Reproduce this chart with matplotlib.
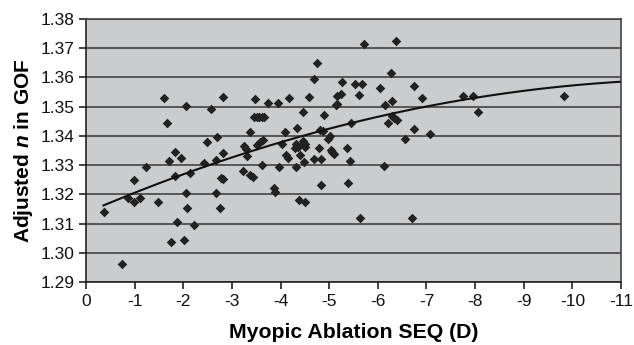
import numpy as np
import matplotlib
matplotlib.use("Agg")
import matplotlib.pyplot as plt

plt.rcParams["font.family"] = ["Liberation Sans", "DejaVu Sans"]
plt.rcParams["axes.unicode_minus"] = False
plt.rcParams["mathtext.fontset"] = "custom"
plt.rcParams["mathtext.it"] = "Liberation Sans:italic:bold"
plt.rcParams["mathtext.rm"] = "Liberation Sans:bold"

# myopic ablation spherical equivalent (D) and adjusted refractive index
seq = [-0.37, -0.73, -0.86, -0.99, -0.99, -1.12, -1.24, -1.49, -1.60, -1.67,
       -1.71, -1.74, -1.84, -1.84, -1.88, -1.95, -2.01, -2.05, -2.05, -2.08,
       -2.14, -2.23, -2.42, -2.49, -2.56, -2.67, -2.69, -2.67, -2.75, -2.77,
       -2.81, -2.82, -2.82,
       -3.22, -3.24, -3.30, -3.31, -3.37, -3.37, -3.43, -3.48, -3.46, -3.51,
       -3.56, -3.61, -3.66, -3.52, -3.57, -3.64, -3.62, -3.74, -3.86, -3.88,
       -3.95, -3.97,
       -4.02, -4.10, -4.12, -4.16, -4.17, -4.32, -4.33, -4.29, -4.32, -4.35,
       -4.37, -4.39, -4.46, -4.47, -4.47, -4.49, -4.50, -4.51, -4.51, -4.59,
       -4.68, -4.69, -4.75, -4.80, -4.81, -4.83, -4.83, -4.88, -4.90, -4.98,
       -5.01, -5.03, -5.06, -5.09,
       -5.14, -5.17, -5.16, -5.25, -5.27, -5.37, -5.39, -5.43, -5.45, -5.53,
       -5.62, -5.64, -5.68, -5.71, -6.05, -6.13, -6.15, -6.21, -6.28, -6.30,
       -6.30, -6.34, -6.39, -6.37, -6.55, -6.71, -6.75, -6.75, -6.90, -7.07,
       -7.76, -7.96, -8.07, -9.83]
n_adj = [1.3139, 1.2961, 1.3188, 1.3249, 1.3174, 1.3188, 1.3293, 1.3174, 1.3529, 1.3444,
         1.3313, 1.3036, 1.3345, 1.3264, 1.3107, 1.3323, 1.3043, 1.3501, 1.3206, 1.3152,
         1.3273, 1.3095, 1.3306, 1.3380, 1.3492, 1.3317, 1.3395, 1.3206, 1.3152, 1.3257,
         1.3251, 1.3342, 1.3532,
         1.3281, 1.3365, 1.3355, 1.3331, 1.3413, 1.3267, 1.3258, 1.3525, 1.3466, 1.3466,
         1.3466, 1.3466, 1.3466, 1.3370, 1.3379, 1.3386, 1.3301, 1.3514, 1.3221, 1.3209,
         1.3512, 1.3292,
         1.3372, 1.3415, 1.3334, 1.3324, 1.3529, 1.3292, 1.3427, 1.3359, 1.3372, 1.3363,
         1.3181, 1.3334, 1.3372, 1.3381, 1.3481, 1.3310, 1.3363, 1.3372, 1.3174, 1.3532,
         1.3594, 1.3322, 1.3651, 1.3359, 1.3420, 1.3322, 1.3233, 1.3418, 1.3473, 1.3390,
         1.3400, 1.3352, 1.3345, 1.3338,
         1.3506, 1.3509, 1.3537, 1.3542, 1.3583, 1.3357, 1.3238, 1.3315, 1.3444, 1.3577,
         1.3540, 1.3120, 1.3577, 1.3714, 1.3563, 1.3298, 1.3505, 1.3444, 1.3615, 1.3519,
         1.3467, 1.3460, 1.3455, 1.3725, 1.3391, 1.3118, 1.3572, 1.3423, 1.3529, 1.3405,
         1.3537, 1.3537, 1.3483, 1.3537]

# second-order polynomial trendline (in terms of |SEQ|)
trend_coef = [-0.00028, 0.00716, 1.31366]
trend_range = [-0.36, -11.0]

x_ticks = list(range(0, -12, -1))
y_ticks = [1.29, 1.30, 1.31, 1.32, 1.33, 1.34, 1.35, 1.36, 1.37, 1.38]

fig = plt.figure(figsize=(6.34, 3.45), dpi=100)
ax = fig.add_axes([86 / 634, 1 - 282 / 345, 535 / 634, 263 / 345])
ax.set_facecolor("#cbcccd")

ax.set_xlim(0, -11)
ax.set_ylim(1.29, 1.38)
ax.set_xticks(x_ticks)
ax.set_xticklabels([str(t) for t in x_ticks])
ax.set_yticks(y_ticks)
ax.set_yticklabels([f"{t:.2f}" for t in y_ticks])
ax.yaxis.grid(True, color="#444444", lw=1.2)
ax.set_axisbelow(True)

for s in ax.spines.values():
    s.set_color("#444444")
    s.set_linewidth(1.2)
ax.spines["left"].set_color("#222222")
ax.spines["bottom"].set_color("#222222")
ax.tick_params(direction="out", length=5, width=1.2, color="#222222",
               labelsize=12.5, labelcolor="#111111")

ax.scatter(seq, n_adj, marker="D", s=24, color="#222222", lw=0, zorder=3)

tx = np.linspace(trend_range[0], trend_range[1], 200)
ax.plot(tx, np.polyval(trend_coef, -tx), color="#111111", lw=1.5, zorder=4)

ax.set_xlabel("Myopic Ablation SEQ (D)", fontsize=15.3, fontweight="bold", labelpad=10)
ax.set_ylabel("Adjusted $n$ in GOF", fontsize=15, fontweight="bold", labelpad=4)

fig.savefig("out.png", dpi=100)
